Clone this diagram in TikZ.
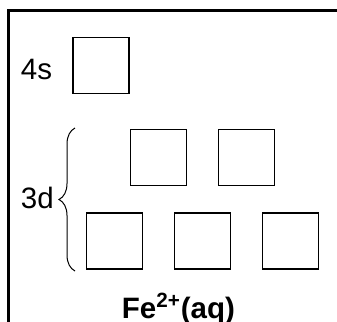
\documentclass[tikz,border=0pt]{standalone}
\usepackage{fontspec}
\setmainfont{Liberation Sans}
\usetikzlibrary{decorations.pathreplacing}
\begin{document}
\begin{tikzpicture}[x=0.5pt,y=-0.5pt,
  orb/.style={draw,line width=0.6pt,minimum size=28pt,inner sep=0pt,outer sep=0pt},
  lbl/.style={font=\fontsize{14.75pt}{17pt}\selectfont,inner sep=0pt,anchor=base west},
  frame/.style={line width=1.25pt}]
\useasboundingbox (0,0) rectangle (337,321);
\fill[white] (0,0) rectangle (337,321);
\draw[frame] (8.7,340) -- (8.7,10.5) -- (350,10.5);
\node[orb] (s1) at (101,65.5) {};
\node[orb] (d1) at (158.3,157.5) {};
\node[orb] (d2) at (246.3,157.5) {};
\node[orb] (d3) at (114.3,241) {};
\node[orb] (d4) at (202.5,241) {};
\node[orb] (d5) at (290.3,241) {};
\node[lbl] (l4s) at (20.5,79.3) {4s};
\node[lbl] (l3d) at (20.5,208.7) {3d};
\coordinate (bt) at (75,128);
\coordinate (bb) at (75,271);
\draw[line width=0.5pt,decorate,decoration={brace,amplitude=8pt}] (bb) -- (bt);
\node[lbl,font=\fontsize{14.75pt}{17pt}\selectfont\bfseries] (fe) at (121.5,318) {Fe\textsuperscript{2+}(aq)};
\end{tikzpicture}
\end{document}
